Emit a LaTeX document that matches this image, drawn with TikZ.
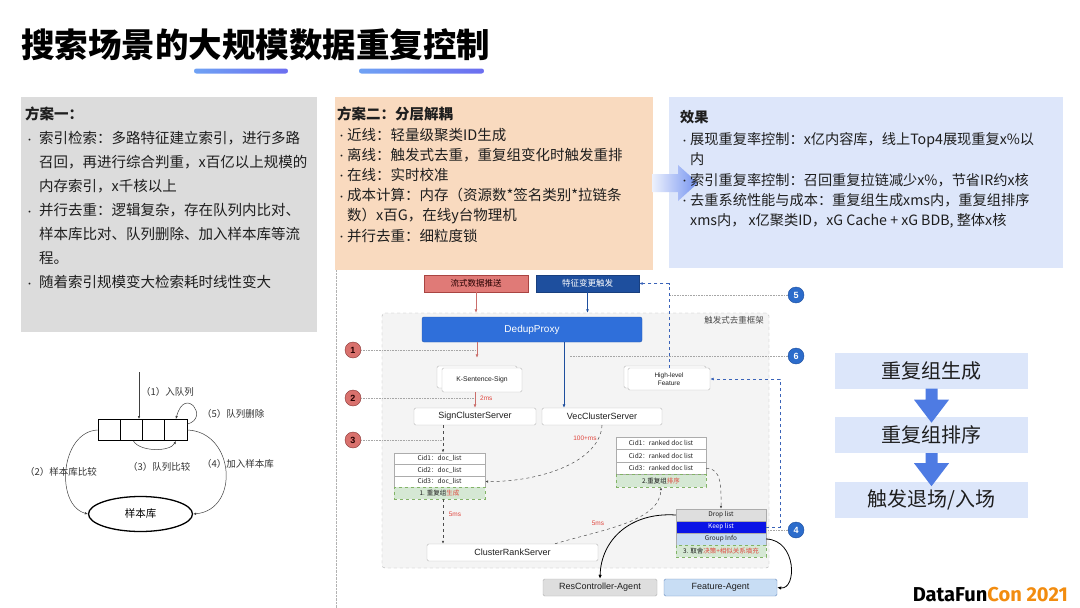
\documentclass[tikz,border=0pt]{standalone}
\usepackage{fontspec}
\setmainfont{Noto Sans CJK SC}
\newfontfamily\lat{Liberation Sans}
\newfontfamily\logofont{Fira Sans}
\usetikzlibrary{shapes.geometric,arrows.meta,calc}
\definecolor{txt}{HTML}{1E1E1E}
\definecolor{boxgray}{HTML}{DCDCDC}
\definecolor{boxpeach}{HTML}{F9DABF}
\definecolor{boxblue}{HTML}{DDE6FA}
\definecolor{ulA}{HTML}{6FA2F4}
\definecolor{ulB}{HTML}{6C6EF0}
\definecolor{arrA}{HTML}{EDF1FD}
\definecolor{arrB}{HTML}{7493F0}
\definecolor{redbox}{HTML}{E07A77}
\definecolor{redline}{HTML}{A94442}
\definecolor{darkblue}{HTML}{1E4F9E}
\definecolor{proxyblue}{HTML}{2F6FDA}
\definecolor{keepblue}{HTML}{0A14E6}
\definecolor{grpblue}{HTML}{C8DCF3}
\definecolor{grnfill}{HTML}{D5E8D4}
\definecolor{grnline}{HTML}{82B366}
\definecolor{dropgray}{HTML}{DEDEDE}
\definecolor{framefill}{HTML}{F4F4F4}
\definecolor{redtxt}{HTML}{E0473F}
\definecolor{dashblue}{HTML}{3A63B8}
\definecolor{circred}{HTML}{D9716D}
\definecolor{circblue}{HTML}{2C6CCB}
\definecolor{flowbg}{HTML}{DCE6FA}
\definecolor{flowarrow}{HTML}{4E7BE3}
\definecolor{logoorange}{HTML}{F28C0F}
\definecolor{fafill}{HTML}{C8DDF4}
\definecolor{faline}{HTML}{6C8EBF}
\newcommand\bulA{\makebox[14pt][l]{\raisebox{0.5pt}{\fontsize{9}{9}\selectfont •}}}
\newcommand\indA{\hspace*{14pt}}
\newcommand\bulB{\makebox[10pt][l]{\raisebox{0.5pt}{\fontsize{9}{9}\selectfont •}}}
\newcommand\indB{\hspace*{10pt}}
\begin{document}
\begin{tikzpicture}[x=1pt,y=-1pt,
  panel/.style={inner sep=0, draw=none},
  ptext/.style={anchor=north west, inner sep=0, align=left, text=txt},
  srv/.style={draw=gray!55, fill=white, rounded corners=1.5pt, inner sep=0, font=\lat\fontsize{9}{10}\selectfont, text=txt},
  rowbox/.style={draw=gray!65, fill=white, inner sep=0, minimum height=12, font=\fontsize{6.5}{7}\selectfont, text=txt},
  grnrow/.style={rowbox, draw=grnline, dashed, fill=grnfill},
  circR/.style={circle, draw=redline!80!black, fill=circred, minimum size=16, inner sep=0, font=\lat\bfseries\fontsize{9}{9}\selectfont, text=black!85!red},
  circB/.style={circle, draw=darkblue, fill=circblue, minimum size=16, inner sep=0, font=\lat\bfseries\fontsize{9}{9}\selectfont, text=white},
  dotline/.style={gray!70, densely dotted, line width=0.6},
  gdash/.style={gray!60!black, dashed, line width=0.5, -{Latex[length=3pt,width=2.5pt]}},
  redarr/.style={redbox!90!black, line width=0.7, -{Latex[length=3.5pt,width=3pt]}},
  bluearr/.style={darkblue, line width=0.8, -{Latex[length=3.5pt,width=3pt]}},
  bdash/.style={dashblue, dashed, line width=0.8, -{Latex[length=3.5pt,width=3pt]}},
  blk/.style={black, line width=0.8, -{Latex[length=4pt,width=3.5pt]}},
  cell/.style={draw=black, line width=0.9, minimum width=22.25, minimum height=21, inner sep=0},
  thin/.style={black!75, line width=0.5, -{Latex[length=3pt,width=2.5pt]}},
  lbl/.style={inner sep=0, font=\fontsize{9.5}{11}\selectfont, text=black!80},
  fbox/.style={fill=flowbg, minimum width=193, minimum height=36, inner sep=0, font=\fontsize{20}{22}\selectfont, text=txt},
  msl/.style={inner sep=0, font=\lat\fontsize{6.5}{7}\selectfont, text=redtxt}
]
\useasboundingbox (0,0) rectangle (1080,608);
\fill[white] (0,0) rectangle (1080,608);

% title
\node[anchor=west, inner sep=0, font=\fontsize{33.5}{36}\selectfont\bfseries, text=black] (title) at (21,45) {搜索场景的大规模数据重复控制};
\shade[left color=ulA, right color=ulB, rounded corners=2.4pt] (194,68.5) rectangle (288,73.5);
\shade[left color=ulA, right color=ulB, rounded corners=2.4pt] (359,68.5) rectangle (484,73.5);

% panels
\node[panel, fill=boxgray, minimum width=296, minimum height=235] (p1) at (169,214.5) {};
\node[panel, fill=boxpeach, minimum width=318, minimum height=173] (p2) at (494,183.5) {};
\node[panel, fill=boxblue, minimum width=394, minimum height=171] (p3) at (866,182.5) {};
\shade[left color=arrA, right color=arrB] (652,174) -- (678,174) -- (678,165) -- (698,183) -- (678,201) -- (678,192) -- (652,192) -- cycle;

\node[ptext, font=\fontsize{14.5}{24}\selectfont] (t1) at (25,107) {%
\textbf{方案一：}\\
\bulA 索引检索：多路特征建立索引，进行多路\\
\indA 召回，再进行综合判重，x百亿以上规模的\\
\indA 内存索引，x千核以上\\
\bulA 并行去重：逻辑复杂，存在队列内比对、\\
\indA 样本库比对、队列删除、加入样本库等流\\
\indA 程。\\
\bulA 随着索引规模变大检索耗时线性变大};

\node[ptext, font=\fontsize{14.5}{20.2}\selectfont] (t2) at (337,107) {%
\textbf{方案二：分层解耦}\\
\bulB 近线：轻量级聚类ID生成\\
\bulB 离线：触发式去重，重复组变化时触发重排\\
\bulB 在线：实时校准\\
\bulB 成本计算：内存（资源数*签名类别*拉链条\\
\indB 数）x百G，在线y台物理机\\
\bulB 并行去重：细粒度锁};

\node[ptext, font=\fontsize{14.2}{20.2}\selectfont] (t3) at (680,110) {%
\textbf{效果}\\[2pt]
\bulB 展现重复率控制：x亿内容库，线上Top4展现重复x\%以\\
\indB 内\\
\bulB 索引重复率控制：召回重复拉链减少x\%，节省IR约x核\\
\bulB 去重系统性能与成本：重复组生成xms内，重复组排序\\
\indB xms内， x亿聚类ID，xG Cache + xG BDB, 整体x核};

% left queue diagram
\node[cell] (q1) at (109.1,430) {};
\node[cell] (q2) at (131.4,430) {};
\node[cell] (q3) at (153.6,430) {};
\node[cell] (q4) at (175.9,430) {};
\node[ellipse, draw=black, line width=1.3, minimum width=104, minimum height=35, inner sep=0, font=\fontsize{10.5}{12}\selectfont] (lib) at (140.5,514) {样本库};
\coordinate (in1) at (139,372);
\draw[thin] (in1) -- (in1 |- q2.north);
\node[lbl, anchor=west] (l1) at (141,392) {（1）入队列};
\draw[thin] (q4.north east) ++(0,5) .. controls (210,418) and (185,385) .. (q4.north);
\node[lbl, anchor=west] (l5) at (202,414) {（5）队列删除};
\draw[thin] (q2.south) ++(2,0) .. controls (140,452) and (170,452) .. (q4.south);
\node[lbl, anchor=west] (l3) at (128,467) {（3）队列比较};
\draw[thin] (q1.west) .. controls (60,432) and (55,505) .. (lib.west);
\node[lbl, anchor=west] (l2) at (25,472) {（2）样本库比较};
\draw[thin] (q4.east) .. controls (235,432) and (240,510) .. (lib.east);
\node[lbl, anchor=west] (l4) at (202,464) {（4）加入样本库};

% middle diagram
\draw[gray!60, densely dotted] (336,270) -- (336,608);
\node[draw=gray!60, dashed, fill=framefill, rounded corners=3pt, minimum width=387, minimum height=255, inner sep=0] (frame) at (575.5,440.5) {};
\node[anchor=east, inner sep=0, font=\fontsize{8.5}{9}\selectfont, text=black!70] (flabel) at (764,320) {触发式去重框架};

\node[draw=redline, fill=redbox, minimum width=104, minimum height=17, inner sep=0, font=\fontsize{8.5}{9}\selectfont, text=black!85!red] (liushi) at (476,283.5) {流式数据推送};
\node[draw=darkblue!80!black, fill=darkblue, minimum width=103, minimum height=17, inner sep=0, font=\fontsize{8.5}{9}\selectfont, text=white] (tz) at (587.5,283.5) {特征变更触发};
\node[fill=proxyblue, draw=proxyblue!80!black, rounded corners=2pt, minimum width=220, minimum height=25, inner sep=0, font=\lat\fontsize{10}{11}\selectfont, text=white] (dedup) at (532,329.5) {DedupProxy};

\node[draw=gray!55, fill=white, rounded corners=1.5pt, minimum width=80, minimum height=22, inner sep=0] (ksb) at (477,377) {};
\node[draw=gray!55, fill=white, rounded corners=1.5pt, minimum width=80, minimum height=24, inner sep=0, font=\lat\fontsize{6.8}{7}\selectfont, text=txt] (ksf) at (482,380) {K-Sentence-Sign};
\node[draw=gray!55, fill=white, rounded corners=1.5pt, minimum width=82, minimum height=22, inner sep=0] (hlfb) at (665,377) {};
\node[draw=gray!55, fill=white, rounded corners=1.5pt, minimum width=82, minimum height=22, inner sep=0, align=center, font=\lat\fontsize{6.5}{8}\selectfont, text=txt] (hlf) at (669,379) {High-level\\Feature};

\node[srv, minimum width=122, minimum height=17] (sign) at (475,416.5) {SignClusterServer};
\node[srv, minimum width=120, minimum height=17] (vec) at (602,416.5) {VecClusterServer};
\node[srv, minimum width=171, minimum height=17] (crs) at (512.5,552.5) {ClusterRankServer};

\node[rowbox, minimum width=91, minimum height=11.5] (ta) at (439.5,458.5) {Cid1：doc\_list};
\node[rowbox, minimum width=91, minimum height=11.5] (tb) at (439.5,470) {Cid2：doc\_list};
\node[rowbox, minimum width=91, minimum height=11.5] (tc) at (439.5,481.5) {Cid3：doc\_list};
\node[grnrow, minimum width=91, minimum height=11.5] (td) at (439.5,493) {1. 重复组\textcolor{redtxt}{生成}};

\node[rowbox, minimum width=90, minimum height=12.5] (ra) at (661,443.25) {Cid1：ranked doc list};
\node[rowbox, minimum width=90, minimum height=12.5] (rb) at (661,455.75) {Cid2：ranked doc list};
\node[rowbox, minimum width=90, minimum height=12.5] (rc) at (661,468.25) {Cid3：ranked doc list};
\node[grnrow, minimum width=90, minimum height=12.5] (rd) at (661,480.75) {2.重复组\textcolor{redtxt}{排序}};

\node[rowbox, fill=dropgray, minimum width=90] (drop) at (721,515) {Drop list};
\node[rowbox, fill=keepblue, text=white, minimum width=90] (keep) at (721,527) {Keep list};
\node[rowbox, fill=grpblue, minimum width=90] (grp) at (721,539) {Group Info};
\node[grnrow, minimum width=90] (dec) at (721,551) {3. 取舍\textcolor{redtxt}{决策+相似关系填充}};

\node[draw=gray!60, fill=dropgray, rounded corners=1.5pt, minimum width=114, minimum height=17, inner sep=0, font=\lat\fontsize{9}{10}\selectfont, text=txt] (rca) at (600,587.5) {ResController-Agent};
\node[draw=faline, fill=fafill, rounded corners=1.5pt, minimum width=113, minimum height=17, inner sep=0, font=\lat\fontsize{9}{10}\selectfont, text=txt] (fa) at (720.5,587.5) {Feature-Agent};

% circles
\node[circR] (c1) at (353,350) {1};
\node[circR] (c2) at (353,398) {2};
\node[circR] (c3) at (353,440) {3};
\node[circB] (c5) at (796,295) {5};
\node[circB] (c6) at (796,356) {6};
\node[circB] (c4) at (796,530) {4};
\coordinate (sx) at (443,0);
\coordinate (vx) at (564,0);
\coordinate (c6x) at (570,0);
\coordinate (crx) at (555,0);

\draw[dotline] (c1.east) -- (c1 -| liushi.south);
\draw[dotline] (c2.east) -- (c2 -| sign.north);
\draw[dotline] (c3.east) -- (c3 -| sx);
\draw[dotline] (c5.west) -- (c5 -| hlf.north);
\draw[dotline] (c6.west) -- (c6 -| c6x);
\draw[dotline] (c4.west) -- (keep.east |- c4);

% connectors
\draw[redarr] (liushi.south) -- (liushi.south |- frame.north);
\draw[redarr, shorten >=8pt] (dedup.south -| ksb.north) -- (ksb.north);
\draw[redarr] (ksf.south -| sign.north) -- (sign.north);
\node[msl, anchor=west] (m2) at (480,398) {2ms};
\draw[bluearr] (tz.south) -- (tz.south |- frame.north);
\draw[bluearr] (dedup.south -| vx) -- (vec.north -| vx);
\draw[bdash] (hlf.north) |- (tz.east);
\draw[bdash] (keep.east) -- ++(14,0) |- (hlf.east);

\draw[gdash] (sign.south -| sx) -- (ta.north -| sx);
\draw[gdash] (td.south -| sx) -- (crs.north -| sx);
\node[msl] (m5a) at (455,514) {5ms};
\draw[gdash] (vec.south) .. controls (600,462) and (540,482) .. (tc.east);
\node[msl] (m100) at (585,438) {100+ms};
\draw[gdash] (crs.north -| crx) .. controls (600,530) and (660,522) .. (rd.south);
\node[msl] (m5b) at (598,523) {5ms};
\draw[gdash] (rc.east) .. controls (722,468) and (721,488) .. (drop.north);
\draw[blk] (drop.west) .. controls (630,512) and (601,540) .. (rca.north);
\draw[blk] (grp.east) .. controls (797,540) and (797,590) .. (fa.east);

% right flow
\node[fbox] (f1) at (931.5,370.5) {重复组生成};
\node[fbox] (f2) at (931.5,435) {重复组排序};
\node[fbox] (f3) at (931.5,500) {触发退场/入场};
\fill[flowarrow] ($(f1.south)+(-6,0)$) -- ($(f1.south)+(6,0)$) -- ($(f1.south)+(6,11)$) -- ($(f1.south)+(17.5,11)$) -- ($(f1.south)+(0,34)$) -- ($(f1.south)+(-17.5,11)$) -- ($(f1.south)+(-6,11)$) -- cycle;
\fill[flowarrow] ($(f2.south)+(-6,0)$) -- ($(f2.south)+(6,0)$) -- ($(f2.south)+(6,10)$) -- ($(f2.south)+(17.5,10)$) -- ($(f2.south)+(0,33)$) -- ($(f2.south)+(-17.5,10)$) -- ($(f2.south)+(-6,10)$) -- cycle;

% logo
\node[anchor=east, inner sep=0] (logo) at (1068,595) {\resizebox{155pt}{!}{\logofont\bfseries DataFun\textcolor{logoorange}{Con 2021}}};
\end{tikzpicture}
\end{document}
